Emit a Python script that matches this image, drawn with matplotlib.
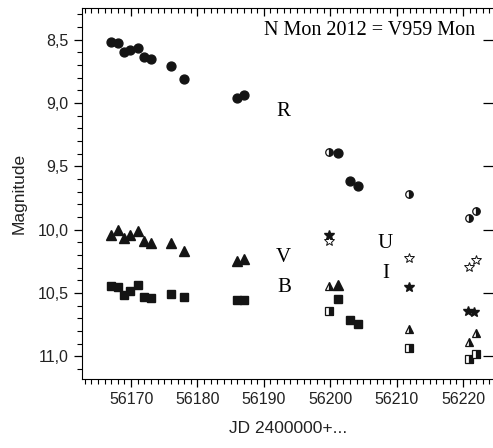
import matplotlib
matplotlib.use('Agg')
import matplotlib.pyplot as plt
from matplotlib.ticker import MultipleLocator, FuncFormatter

# R band
r_jd = [56166.9, 56168.0, 56168.9, 56169.9, 56171.0, 56172.0, 56173.0, 56176.0, 56178.0,
        56186.0, 56187.0, 56201.1, 56203.0, 56204.2]
r_mag = [8.517, 8.525, 8.600, 8.583, 8.569, 8.636, 8.654, 8.704, 8.814,
         8.964, 8.933, 9.398, 9.614, 9.654]
r_half_jd = [56199.8, 56211.8, 56220.9, 56221.9]
r_half_mag = [9.386, 9.722, 9.911, 9.851]

# V band
v_jd = [56166.9, 56168.0, 56168.9, 56169.9, 56171.0, 56172.0, 56173.0, 56176.0, 56178.0,
        56186.0, 56187.0, 56201.1]
v_mag = [10.043, 10.003, 10.069, 10.043, 10.011, 10.088, 10.104, 10.109, 10.167,
         10.249, 10.233, 10.440]
v_half_jd = [56199.8, 56211.8, 56220.9, 56221.9]
v_half_mag = [10.446, 10.787, 10.885, 10.819]

# B band
b_jd = [56166.9, 56168.0, 56168.9, 56169.9, 56171.0, 56172.0, 56173.0, 56176.0, 56178.0,
        56186.0, 56187.0, 56201.1, 56203.0, 56204.2]
b_mag = [10.446, 10.456, 10.517, 10.483, 10.438, 10.530, 10.538, 10.509, 10.530,
         10.556, 10.556, 10.548, 10.714, 10.746]
b_half_jd = [56199.8, 56211.8, 56220.9, 56221.9]
b_half_mag = [10.643, 10.932, 11.024, 10.982]

# U and I
u_jd = [56199.8, 56211.9, 56220.9, 56221.9]
u_mag = [10.088, 10.222, 10.293, 10.240]
i_jd = [56199.8, 56211.9, 56220.7, 56221.7]
i_mag = [10.043, 10.456, 10.640, 10.648]

band_labels = [('R', 56192.9, 9.07), ('V', 56192.9, 10.22), ('B', 56193.1, 10.46),
               ('U', 56208.3, 10.11), ('I', 56208.3, 10.345)]
title = 'N Mon 2012 = V959 Mon'


def comma_fmt(v, pos):
    return f'{v:.1f}'.replace('.', ',')


fig = plt.figure(figsize=(4.93, 4.48), dpi=100)
ax = fig.add_axes([0.1663, 0.154, 0.836, 0.828])

ink = '#141414'
ax.plot(r_jd, r_mag, 'o', color=ink, ms=6.4)
ax.plot(r_half_jd, r_half_mag, 'o', color=ink, ms=5.4, fillstyle='right',
        markerfacecoloralt='white', mec=ink, mew=0.9)
ax.plot(v_jd, v_mag, '^', color=ink, ms=6.8)
ax.plot(v_half_jd, v_half_mag, '^', color=ink, ms=6.0, fillstyle='right',
        markerfacecoloralt='white', mec=ink, mew=0.9)
ax.plot(b_jd, b_mag, 's', color=ink, ms=5.4)
ax.plot(b_half_jd, b_half_mag, 's', color=ink, ms=5.2, fillstyle='right',
        markerfacecoloralt='white', mec=ink, mew=0.9)
ax.plot(u_jd, u_mag, '*', color=ink, ms=7.5, mfc='white', mew=0.7)
ax.plot(i_jd, i_mag, '*', color=ink, ms=7.5)

for txt, x, y in band_labels:
    ax.text(x, y, txt, family='Liberation Serif', fontsize=15, ha='center', va='center')
ax.text(0.955, 0.965, title, transform=ax.transAxes, family='Liberation Serif',
        fontsize=14.5, ha='right', va='top')

ax.set_xlim(56162.6, 56224.7)
ax.set_ylim(11.18, 8.25)

ax.xaxis.set_major_locator(MultipleLocator(10))
ax.xaxis.set_minor_locator(MultipleLocator(1))
ax.yaxis.set_major_locator(MultipleLocator(0.5))
ax.yaxis.set_minor_locator(MultipleLocator(0.1))
ax.yaxis.set_major_formatter(FuncFormatter(comma_fmt))

ax.spines['right'].set_visible(False)
ax.spines['top'].set_visible(False)
ax.tick_params(which='major', direction='out', length=6, width=0.9)
ax.tick_params(which='minor', direction='out', length=3.5, width=0.8)

# top: spine with inward ticks
sec_x = ax.secondary_xaxis('top')
sec_x.xaxis.set_major_locator(MultipleLocator(10))
sec_x.xaxis.set_minor_locator(MultipleLocator(1))
sec_x.tick_params(which='major', direction='in', length=6, width=0.9, labeltop=False)
sec_x.tick_params(which='minor', direction='in', length=3.5, width=0.8)

# right: only inward major ticks, spine falls off the edge
sec_y = ax.secondary_yaxis('right')
sec_y.yaxis.set_major_locator(MultipleLocator(0.5))
sec_y.yaxis.set_minor_locator(MultipleLocator(0.1))
sec_y.tick_params(which='major', direction='in', length=8, width=0.9, labelright=False)
sec_y.tick_params(which='minor', length=0)

for lbl in ax.get_xticklabels() + ax.get_yticklabels():
    lbl.set_family('Liberation Sans')
    lbl.set_fontsize(11.5)
    lbl.set_color('#222222')

ax.set_xlabel('JD 2400000+...', family='Liberation Sans', fontsize=12.5, labelpad=10,
              color='#222222')
ax.set_ylabel('Magnitude', family='Liberation Sans', fontsize=12.5, labelpad=8,
              color='#222222')

fig.savefig('out.png', dpi=100)
